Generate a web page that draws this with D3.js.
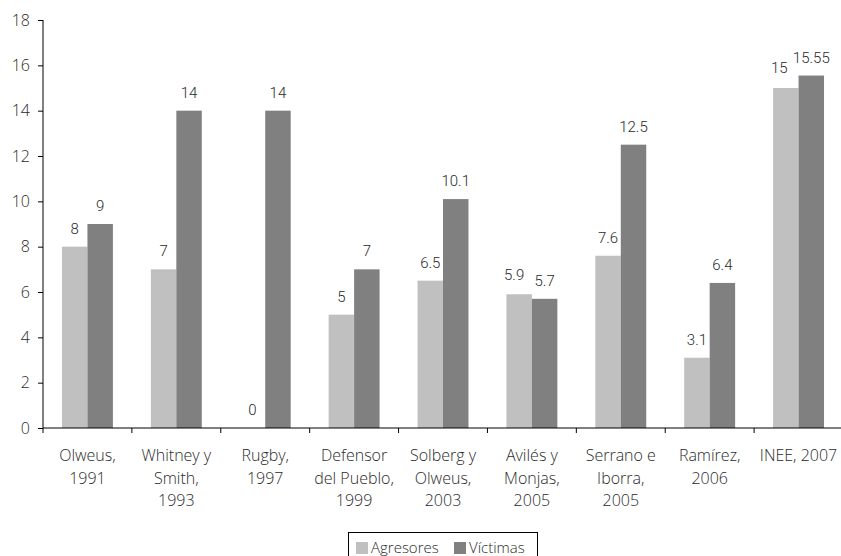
<!DOCTYPE html>
<html>
<head>
<meta charset="utf-8">
<script src="https://cdn.jsdelivr.net/npm/d3@7"></script>
<style>
  html, body { margin: 0; padding: 0; background: #fff; }
  svg { display: block; }
  text.ax { font-family: "Open Sans", sans-serif; font-weight: 300; fill: #2a2a2a; font-size: 16px; }
  text.val { font-family: Roboto, "Liberation Sans", sans-serif; font-weight: 300; fill: #2a2a2a; font-size: 15px; }
</style>
</head>
<body>
<svg id="chart" width="841" height="556"></svg>
<script>
// ---- data ----
const categories = [
  "Olweus,\n1991",
  "Whitney y\nSmith,\n1993",
  "Rugby,\n1997",
  "Defensor\ndel Pueblo,\n1999",
  "Solberg y\nOlweus,\n2003",
  "Avilés y\nMonjas,\n2005",
  "Serrano e\nIborra,\n2005",
  "Ramírez,\n2006",
  "INEE, 2007"
];
const seriesNames = ["Agresores", "Víctimas"];
const agresores = [8, 7, 0, 5, 6.5, 5.9, 7.6, 3.1, 15];
const victimas = [9, 14, 14, 7, 10.1, 5.7, 12.5, 6.4, 15.55];
const yTicks = [0, 2, 4, 6, 8, 10, 12, 14, 16, 18];
const colors = ["#c0c0c0", "#808080"];

// ---- layout ----
const svg = d3.select("#chart");
const mLeft = 43, mRight = 843, mTop = 20, mBottom = 428;

const x0 = d3.scaleBand().domain(categories).range([mLeft, mRight]).padding(0);
const bw = x0.bandwidth();
const x1 = d3.scaleBand().domain(seriesNames).range([bw * 0.2135, bw * 0.7865]).padding(0);
const y = d3.scaleLinear().domain([0, 18]).range([mBottom, mTop]);
const color = d3.scaleOrdinal().domain(seriesNames).range(colors);

const rows = categories.map((c, i) => ({
  cat: c,
  vals: [
    { s: seriesNames[0], v: agresores[i] },
    { s: seriesNames[1], v: victimas[i] }
  ]
}));

// bars
const g = svg.append("g");
const groups = g.selectAll("g.grp").data(rows).join("g")
  .attr("class", "grp")
  .attr("transform", d => `translate(${x0(d.cat)},0)`);

groups.selectAll("rect").data(d => d.vals).join("rect")
  .attr("x", d => x1(d.s))
  .attr("width", x1.bandwidth())
  .attr("y", d => y(d.v))
  .attr("height", d => y(0) - y(d.v))
  .attr("fill", d => color(d.s));

// value labels (small nudges where labels crowd each other)
const nudge = (cat, s) => {
  if (cat === categories[8] && s === seriesNames[0]) return [-6.5, -2];
  if (cat === categories[5] && s === seriesNames[0]) return [-5, -1];
  return [0, 0];
};
groups.each(function(d) {
  d3.select(this).selectAll("text.val").data(d.vals).join("text")
    .attr("class", "val")
    .attr("x", v => x1(v.s) + x1.bandwidth() / 2 + nudge(d.cat, v.s)[0])
    .attr("y", v => y(v.v) - 13 + nudge(d.cat, v.s)[1])
    .attr("text-anchor", "middle")
    .text(v => v.v);
});

// y axis
const yAxis = d3.axisLeft(y).tickValues(yTicks).tickSize(5).tickPadding(8);
const ya = svg.append("g").attr("transform", `translate(${mLeft},0)`).call(yAxis);
ya.attr("font-family", null).attr("font-size", null);
ya.select(".domain").attr("stroke", "#000").attr("d", `M0,${mBottom}V${mTop}`);
ya.selectAll(".tick line").attr("stroke", "#000");
ya.selectAll(".tick text").attr("class", "ax").attr("fill", null);

// x axis
const xa = svg.append("g").attr("transform", `translate(0,${mBottom})`);
xa.append("line").attr("x1", mLeft).attr("x2", mRight).attr("y1", 0).attr("y2", 0).attr("stroke", "#000");
const boundaries = categories.map(c => x0(c));
xa.selectAll("line.tk").data(boundaries).join("line")
  .attr("class", "tk")
  .attr("x1", d => d).attr("x2", d => d)
  .attr("y1", 0).attr("y2", 5)
  .attr("stroke", "#000");
xa.selectAll("text.cat").data(categories).join("text")
  .attr("class", "ax cat")
  .attr("text-anchor", "middle")
  .each(function(c) {
    const lines = c.split("\n");
    d3.select(this).selectAll("tspan").data(lines).join("tspan")
      .attr("x", x0(c) + bw / 2)
      .attr("y", (l, i) => 33 + i * 22.5)
      .text(l => l);
  });

// legend
const lg = svg.append("g");
lg.append("rect").attr("x", 348.5).attr("y", 532.5).attr("width", 189).attr("height", 26)
  .attr("fill", "none").attr("stroke", "#000").attr("stroke-width", 1);
const items = [
  { s: seriesNames[0], sx: 356, tx: 371 },
  { s: seriesNames[1], sx: 454, tx: 469 }
];
items.forEach(it => {
  lg.append("rect").attr("x", it.sx).attr("y", 542).attr("width", 12).attr("height", 12).attr("fill", color(it.s));
  lg.append("text").attr("class", "ax").attr("x", it.tx).attr("y", 553).style("font-size", "15px").text(it.s);
});
</script>
</body>
</html>
